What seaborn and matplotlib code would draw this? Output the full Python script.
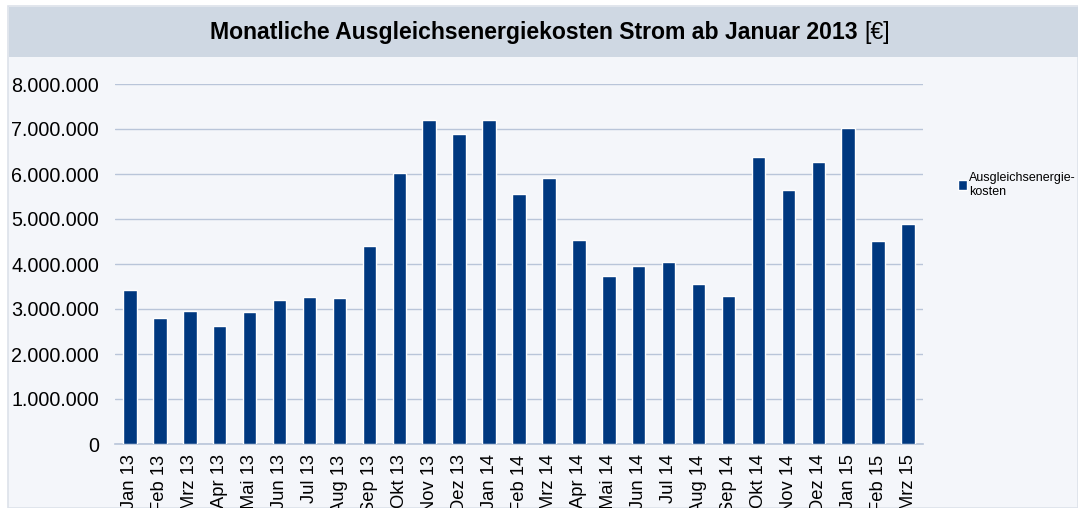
import matplotlib
matplotlib.use('Agg')
import matplotlib.pyplot as plt
import matplotlib.ticker as mticker
from matplotlib.patches import Rectangle
import numpy as np
import pandas as pd
import seaborn as sns

# data (EUR)
months = ['Jan 13', 'Feb 13', 'Mrz 13', 'Apr 13', 'Mai 13', 'Jun 13', 'Jul 13', 'Aug 13', 'Sep 13',
          'Okt 13', 'Nov 13', 'Dez 13', 'Jan 14', 'Feb 14', 'Mrz 14', 'Apr 14', 'Mai 14', 'Jun 14',
          'Jul 14', 'Aug 14', 'Sep 14', 'Okt 14', 'Nov 14', 'Dez 14', 'Jan 15', 'Feb 15', 'Mrz 15']
kosten = [3420000, 2810000, 2950000, 2630000, 2930000, 3190000, 3260000, 3240000, 4390000,
          6020000, 7200000, 6880000, 7200000, 5560000, 5910000, 4530000, 3740000, 3960000,
          4050000, 3550000, 3280000, 6380000, 5640000, 6260000, 7020000, 4520000, 4900000]
yticks = [0, 1000000, 2000000, 3000000, 4000000, 5000000, 6000000, 7000000, 8000000]

df = pd.DataFrame({'Monat': months, 'Kosten': kosten})

sns.set_style('white')
plt.rcParams['font.family'] = ['Liberation Sans', 'DejaVu Sans']
plt.rcParams['text.color'] = 'black'
plt.rcParams['xtick.color'] = 'black'
plt.rcParams['ytick.color'] = 'black'

W, H = 1078, 508
bg = '#f4f6fa'
band = '#cfd8e3'
grid = '#b9c5d9'
bar = '#00387f'

fig = plt.figure(figsize=(W / 100, H / 100), dpi=100)
fig.patch.set_facecolor('white')
# chart area background + border
fig.patches.append(Rectangle((8 / W, 0), 1 - 8 / W, 1 - 6 / H, transform=fig.transFigure,
                             facecolor=bg, edgecolor='#dde2ea', linewidth=1.2, zorder=-2))
# title band
fig.patches.append(Rectangle((9 / W, 1 - 57 / H), 1 - 9 / W, 50 / H, transform=fig.transFigure,
                             facecolor=band, edgecolor='none', zorder=-1))

ax = fig.add_axes([115 / W, (H - 444) / H, (923 - 115) / W, (444 - 84) / H])
ax.set_facecolor(bg)
sns.barplot(data=df, x='Monat', y='Kosten', color=bar, width=0.45, saturation=1, ax=ax,
            label='Ausgleichsenergie-\nkosten', zorder=3)

ax.set_ylim(0, 8000000)
ax.set_xlim(-0.5, len(months) - 0.5)
ax.set_yticks(yticks)
ax.yaxis.set_major_formatter(mticker.FuncFormatter(lambda v, p: f'{int(v):,}'.replace(',', '.')))
ax.yaxis.grid(True, color=grid, linewidth=1)
ax.set_axisbelow(True)
for s in ['top', 'right', 'left']:
    ax.spines[s].set_visible(False)
ax.spines['bottom'].set_color(grid)
ax.spines['bottom'].set_linewidth(1.2)
ax.tick_params(axis='y', length=0, pad=11.5, labelsize=14.2)
ax.tick_params(axis='x', which='major', length=0, pad=7.5, labelsize=13.2, rotation=90)
ax.set_xticks(np.arange(-0.5, len(months)), minor=True)
ax.tick_params(axis='x', which='minor', length=5, color=grid, width=1)
ax.set_xlabel('')
ax.set_ylabel('')
for lab in ax.get_xticklabels():
    lab.set_va('top')

# title: bold part + regular [€]
fig.canvas.draw()
r = fig.canvas.get_renderer()
tt = fig.text(0, 1 - 32 / H, 'Monatliche Ausgleichsenergiekosten Strom ab Januar 2013 ',
              ha='left', va='center', fontsize=16.6, fontweight='bold')
te = fig.text(0, 1 - 32 / H, '[€]', ha='left', va='center', fontsize=16.6)
w1 = tt.get_window_extent(r).width
w2 = te.get_window_extent(r).width
x0 = 550 - (w1 + w2) / 2
tt.set_x(x0 / W)
te.set_x((x0 + w1) / W)

leg = ax.legend(loc='upper left', bbox_to_anchor=(953 / W, 1 - 167 / H), bbox_transform=fig.transFigure,
                frameon=False, fontsize=9, handlelength=0.75, handleheight=0.75, handletextpad=0.1,
                borderaxespad=0, labelspacing=0.2)

fig.savefig('out.png', dpi=100, facecolor=fig.get_facecolor())
